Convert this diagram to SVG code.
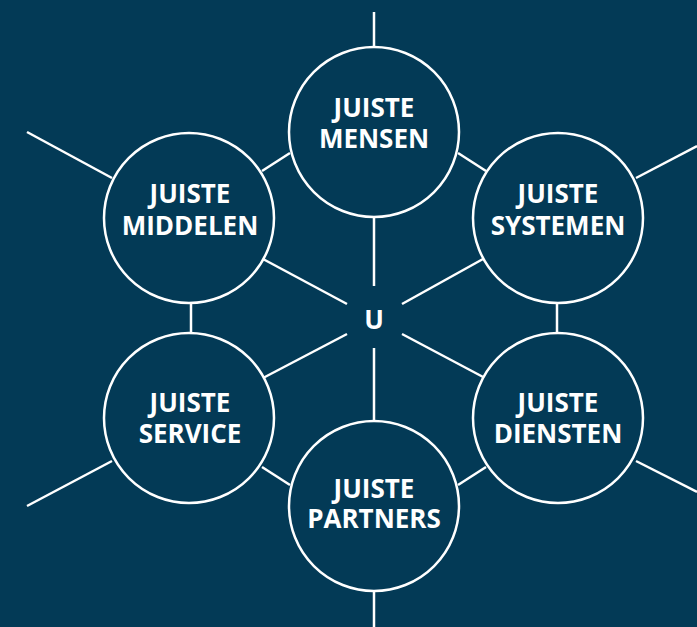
<svg xmlns="http://www.w3.org/2000/svg" width="697" height="627" viewBox="0 0 697 627">
<style>
.c{fill:#033a56;stroke:#ffffff;stroke-width:2.5}
.l{stroke:#ffffff;stroke-width:2.5;fill:none}
.t{fill:#ffffff;font-family:"Open Sans","DejaVu Sans",sans-serif;font-weight:bold;font-size:26px;text-anchor:middle}
</style>
<rect width="697" height="627" fill="#033a56"/>
<g id="connectors" class="l">
<line x1="374" y1="12" x2="374" y2="47"/>
<line x1="374" y1="592" x2="374" y2="627"/>
<line x1="27" y1="132" x2="112" y2="178"/>
<line x1="27" y1="506" x2="112" y2="461"/>
<line x1="636" y1="178" x2="697" y2="146"/>
<line x1="636" y1="461" x2="697" y2="492"/>
<line x1="262" y1="171" x2="290" y2="153"/>
<line x1="458" y1="153" x2="486" y2="171"/>
<line x1="262" y1="467" x2="290" y2="485"/>
<line x1="458" y1="485" x2="486" y2="467"/>
<line x1="191" y1="303" x2="191" y2="333"/>
<line x1="557" y1="303" x2="557" y2="333"/>
<line x1="374" y1="217" x2="374" y2="286"/>
<line x1="374" y1="348" x2="374" y2="421"/>
<line x1="263" y1="259" x2="347" y2="304"/>
<line x1="483" y1="259" x2="402" y2="304"/>
<line x1="263" y1="378" x2="347" y2="334"/>
<line x1="485" y1="378" x2="402" y2="334"/>
</g>
<g id="center"><text class="t" x="374" y="329">U</text></g>
<g id="mensen"><circle class="c" cx="374" cy="132" r="85"/><text class="t" x="374" y="117">JUISTE<tspan x="374" y="148">MENSEN</tspan></text></g>
<g id="middelen"><circle class="c" cx="189" cy="218" r="85"/><text class="t" x="190" y="203">JUISTE<tspan x="190" y="235">MIDDELEN</tspan></text></g>
<g id="systemen"><circle class="c" cx="558" cy="218" r="85"/><text class="t" x="558" y="203">JUISTE<tspan x="558" y="235">SYSTEMEN</tspan></text></g>
<g id="service"><circle class="c" cx="189" cy="418" r="85"/><text class="t" x="190" y="412">JUISTE<tspan x="190" y="443">SERVICE</tspan></text></g>
<g id="diensten"><circle class="c" cx="558" cy="418" r="85"/><text class="t" x="558" y="412">JUISTE<tspan x="558" y="443">DIENSTEN</tspan></text></g>
<g id="partners"><circle class="c" cx="374" cy="506" r="85"/><text class="t" x="374" y="498">JUISTE<tspan x="374" y="528">PARTNERS</tspan></text></g>
</svg>
